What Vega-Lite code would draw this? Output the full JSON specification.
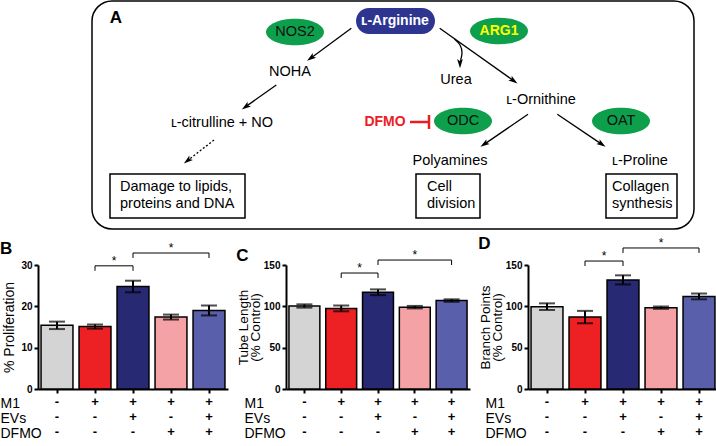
{
  "$schema": "https://vega.github.io/schema/vega-lite/v6.json",
  "padding": 0,
  "background": "white",
  "spacing": 4,
  "config": {
    "view": {"stroke": null},
    "font": "Liberation Sans",
    "text": {"font": "Liberation Sans", "color": "black"},
    "title": {"font": "Liberation Sans"},
    "axis": {"domainColor": "black", "domainWidth": 2, "tickColor": "black", "tickWidth": 2, "labelColor": "black", "titleColor": "black", "grid": false, "labelFont": "Liberation Sans", "titleFont": "Liberation Sans"},
    "axisY": {"labelFontSize": 10, "labelFontWeight": "bold", "tickSize": 4, "labelPadding": 2, "titleFontSize": 14, "titleFontWeight": "normal"}
  },
  "datasets": {
    "frame": [{"x": 54, "x2": 656, "y": 1, "y2": 229}],
    "boxes": [{"x": 72, "x2": 207, "y": 174, "y2": 218}, {"x": 378, "x2": 442, "y": 174, "y2": 218}, {"x": 568, "x2": 639, "y": 174, "y2": 218}],
    "pill": [{"x": 318, "x2": 397, "y": 8, "y2": 34}],
    "enzymes": [{"name": "NOS2", "x": 257, "y": 32}, {"name": "ARG1", "x": 461, "y": 31}, {"name": "ODC", "x": 425, "y": 121}, {"name": "OAT", "x": 583, "y": 121}],
    "arrows": [
      {"x": 313.3, "y": 28.3, "x2": 273.3, "y2": 57.7},
      {"x": 238.3, "y": 85, "x2": 208.1, "y2": 106.4},
      {"x": 401.7, "y": 28.3, "x2": 475.2, "y2": 80.4},
      {"x": 490, "y": 114.3, "x2": 446.8, "y2": 143.9},
      {"x": 519.3, "y": 114.3, "x2": 563.2, "y2": 143.9}
    ],
    "heads": [
      {"x": 273.3, "y": 57.7, "angle": 233.6},
      {"x": 208.1, "y": 106.4, "angle": 234.7},
      {"x": 475.2, "y": 80.4, "angle": 125.3},
      {"x": 446.8, "y": 143.9, "angle": 235.6},
      {"x": 563.2, "y": 143.9, "angle": 124},
      {"x": 150, "y": 160.2, "angle": 232.2},
      {"x": 422, "y": 63, "angle": 180}
    ],
    "dashed": [{"x": 176, "y": 140, "x2": 150, "y2": 160.2}],
    "inhib": [{"x": 372, "y": 122, "x2": 391, "y2": 122}, {"x": 391, "y": 115, "x2": 391, "y2": 129}],
    "curve": [{"i": 1, "x": 416.5, "y": 39}, {"i": 2, "x": 422, "y": 45}, {"i": 3, "x": 424, "y": 53}, {"i": 4, "x": 422.5, "y": 61}],
    "labels": [
      {"t": "NOHA", "x": 252, "y": 72},
      {"t": "ʟ-citrulline + NO", "x": 184, "y": 123},
      {"t": "Urea", "x": 418, "y": 80},
      {"t": "ʟ-Ornithine", "x": 503, "y": 100},
      {"t": "Polyamines", "x": 412, "y": 161},
      {"t": "ʟ-Proline", "x": 602, "y": 161}
    ],
    "boxtext": [
      {"t": "Damage to lipids,", "x": 82, "y": 187},
      {"t": "proteins and DNA", "x": 82, "y": 204},
      {"t": "Cell", "x": 389, "y": 187},
      {"t": "division", "x": 389, "y": 204},
      {"t": "Collagen", "x": 574, "y": 187},
      {"t": "synthesis", "x": 574, "y": 204}
    ],
    "Bbars": [
      {"cond": "- - -", "value": 15.4, "lo": 14.5, "hi": 16.3},
      {"cond": "+ - -", "value": 15.1, "lo": 14.6, "hi": 15.6},
      {"cond": "+ + -", "value": 24.8, "lo": 23.4, "hi": 26.2},
      {"cond": "+ - +", "value": 17.4, "lo": 16.8, "hi": 18.0},
      {"cond": "+ + +", "value": 19.0, "lo": 17.8, "hi": 20.2}
    ],
    "Cbars": [
      {"cond": "- - -", "value": 100.4, "lo": 98.4, "hi": 102.4},
      {"cond": "+ - -", "value": 97.5, "lo": 94, "hi": 101},
      {"cond": "+ + -", "value": 117, "lo": 113.5, "hi": 120.5},
      {"cond": "+ - +", "value": 99, "lo": 97.5, "hi": 100.5},
      {"cond": "+ + +", "value": 107, "lo": 105.5, "hi": 108.5}
    ],
    "Dbars": [
      {"cond": "- - -", "value": 99.6, "lo": 95.6, "hi": 103.6},
      {"cond": "+ - -", "value": 87, "lo": 79.5, "hi": 94.5},
      {"cond": "+ + -", "value": 132, "lo": 126.5, "hi": 137.5},
      {"cond": "+ - +", "value": 98.4, "lo": 97, "hi": 99.8},
      {"cond": "+ + +", "value": 112, "lo": 108.5, "hi": 115.5}
    ],
    "Bbr": [
      {"x": "+ - -", "x2": "+ + -", "y": 29.8, "y2": 29.8},
      {"x": "+ - -", "x2": "+ - -", "y": 29.8, "y2": 28.6},
      {"x": "+ + -", "x2": "+ + -", "y": 29.8, "y2": 28.6},
      {"x": "+ + -", "x2": "+ + +", "y": 32.9, "y2": 32.9},
      {"x": "+ + -", "x2": "+ + -", "y": 32.9, "y2": 31.7},
      {"x": "+ + +", "x2": "+ + +", "y": 32.9, "y2": 31.7}
    ],
    "Cbr": [
      {"x": "+ - -", "x2": "+ + -", "y": 140.3, "y2": 140.3},
      {"x": "+ - -", "x2": "+ - -", "y": 140.3, "y2": 134.3},
      {"x": "+ + -", "x2": "+ + -", "y": 140.3, "y2": 134.3},
      {"x": "+ + -", "x2": "+ + +", "y": 156, "y2": 156},
      {"x": "+ + -", "x2": "+ + -", "y": 156, "y2": 150},
      {"x": "+ + +", "x2": "+ + +", "y": 156, "y2": 150}
    ],
    "Dbr": [
      {"x": "+ - -", "x2": "+ + -", "y": 154.8, "y2": 154.8},
      {"x": "+ - -", "x2": "+ - -", "y": 154.8, "y2": 148.8},
      {"x": "+ + -", "x2": "+ + -", "y": 154.8, "y2": 148.8},
      {"x": "+ + -", "x2": "+ + +", "y": 170.6, "y2": 170.6},
      {"x": "+ + -", "x2": "+ + -", "y": 170.6, "y2": 164.6},
      {"x": "+ + +", "x2": "+ + +", "y": 170.6, "y2": 164.6}
    ]
  },
  "vconcat": [
    {
      "width": 716,
      "height": 230,
      "encoding": {
        "x": {"field": "x", "type": "quantitative", "scale": {"domain": [0, 716], "nice": false, "zero": false}, "axis": null},
        "y": {"field": "y", "type": "quantitative", "scale": {"domain": [0, 230], "nice": false, "zero": false, "reverse": true}, "axis": null}
      },
      "layer": [
        {"data": {"name": "frame"}, "mark": {"type": "rect", "fill": "white", "fillOpacity": 0, "stroke": "black", "strokeWidth": 1.5, "cornerRadius": 20},
         "encoding": {"x2": {"field": "x2"}, "y2": {"field": "y2"}}},
        {"data": {"name": "boxes"}, "mark": {"type": "rect", "fill": "white", "fillOpacity": 0, "stroke": "black", "strokeWidth": 1.5},
         "encoding": {"x2": {"field": "x2"}, "y2": {"field": "y2"}}},
        {"data": {"name": "pill"}, "mark": {"type": "rect", "fill": "#2d3591", "cornerRadius": 13},
         "encoding": {"x2": {"field": "x2"}, "y2": {"field": "y2"}}},
        {"data": {"name": "enzymes"}, "mark": {"type": "point", "shape": "M-1,0A1,0.46,0,1,1,1,0A1,0.46,0,1,1,-1,0Z", "filled": true, "fill": "#0e9f4c", "opacity": 1, "strokeWidth": 0, "size": 3364},
         "encoding": {}},
        {"data": {"name": "enzymes"}, "transform": [{"filter": "datum.name != 'ARG1'"}], "mark": {"type": "text", "fontSize": 14.5, "color": "#111111"},
         "encoding": {"text": {"field": "name"}}},
        {"data": {"name": "enzymes"}, "transform": [{"filter": "datum.name == 'ARG1'"}], "mark": {"type": "text", "fontSize": 14, "fontWeight": "bold", "color": "#ffff00"},
         "encoding": {"text": {"field": "name"}}},
        {"data": {"values": [{"t": "ʟ-Arginine", "x": 357, "y": 21}]}, "mark": {"type": "text", "fontSize": 14, "fontWeight": "bold", "color": "white"},
         "encoding": {"text": {"field": "t"}}},
        {"data": {"values": [{"t": "A", "x": 78, "y": 18}]}, "mark": {"type": "text", "fontSize": 17, "fontWeight": "bold", "color": "black"},
         "encoding": {"text": {"field": "t"}}},
        {"data": {"values": [{"t": "DFMO", "x": 347, "y": 122}]}, "mark": {"type": "text", "fontSize": 14, "fontWeight": "bold", "color": "#ec1c24"},
         "encoding": {"text": {"field": "t"}}},
        {"data": {"name": "labels"}, "mark": {"type": "text", "fontSize": 14.5, "color": "black"},
         "encoding": {"text": {"field": "t"}}},
        {"data": {"name": "boxtext"}, "mark": {"type": "text", "fontSize": 14.5, "align": "left", "color": "black"},
         "encoding": {"text": {"field": "t"}}},
        {"data": {"name": "arrows"}, "mark": {"type": "rule", "color": "black", "strokeWidth": 1.3},
         "encoding": {"x2": {"field": "x2"}, "y2": {"field": "y2"}}},
        {"data": {"name": "dashed"}, "mark": {"type": "rule", "color": "black", "strokeWidth": 1.3, "strokeDash": [2, 2]},
         "encoding": {"x2": {"field": "x2"}, "y2": {"field": "y2"}}},
        {"data": {"name": "inhib"}, "mark": {"type": "rule", "color": "#ec1c24", "strokeWidth": 2.5},
         "encoding": {"x2": {"field": "x2"}, "y2": {"field": "y2"}}},
        {"data": {"name": "curve"}, "mark": {"type": "line", "color": "black", "strokeWidth": 1.3, "interpolate": "natural"},
         "encoding": {"order": {"field": "i", "type": "quantitative"}}},
        {"data": {"name": "heads"}, "mark": {"type": "point", "shape": "M0,-1L0.55,0.75L0,0.35L-0.55,0.75Z", "filled": true, "fill": "black", "opacity": 1, "strokeWidth": 0, "size": 110},
         "encoding": {"angle": {"field": "angle", "type": "quantitative", "scale": null}}}
      ]
    },
    {
      "hconcat": [
        {
          "width": 190, "height": 124,
          "title": {"text": "B", "anchor": "start", "frame": "bounds", "fontSize": 17, "fontWeight": "bold", "color": "black", "offset": -16},
          "layer": [
            {"data": {"name": "Bbars"}, "mark": {"type": "bar", "stroke": "black", "strokeWidth": 1.5},
             "encoding": {
               "x": {"field": "cond", "type": "nominal", "sort": null,
                     "scale": {"domain": ["- - -", "+ - -", "+ + -", "+ - +", "+ + +"], "paddingInner": 0.16, "paddingOuter": 0.08},
                     "axis": {"labelExpr": "split(datum.label, ' ')", "labelAngle": 0, "labelFontSize": 13, "labelFontWeight": "bold", "labelLineHeight": 15, "labelPadding": 2, "tickSize": 4,
                              "title": ["M1", "EVs", "DFMO"], "titleAlign": "left", "titleAnchor": "start", "titleX": -38, "titleY": 7, "titleBaseline": "top", "titleLineHeight": 15, "titleFontSize": 14, "titleFontWeight": "normal"}},
               "y": {"field": "value", "type": "quantitative", "scale": {"domain": [0, 30], "nice": false}, "axis": {"values": [0, 10, 20, 30], "title": "% Proliferation", "titlePadding": 4}},
               "color": {"field": "cond", "type": "nominal", "scale": {"domain": ["- - -", "+ - -", "+ + -", "+ - +", "+ + +"], "range": ["#d4d4d4", "#ed2024", "#272a73", "#f4a2a5", "#5a5fab"]}, "legend": null}
             }},
            {"data": {"name": "Bbars"}, "mark": {"type": "errorbar", "ticks": {"size": 16}, "thickness": 2, "color": "black"},
             "encoding": {"x": {"field": "cond", "type": "nominal", "sort": null}, "y": {"field": "lo", "type": "quantitative", "title": "% Proliferation"}, "y2": {"field": "hi"}}},
            {"data": {"name": "Bbr"}, "mark": {"type": "rule", "color": "black", "strokeWidth": 1},
             "encoding": {"x": {"field": "x", "type": "nominal", "bandPosition": 0.5}, "x2": {"field": "x2", "bandPosition": 0.5}, "y": {"field": "y", "type": "quantitative"}, "y2": {"field": "y2"}}},
            {"data": {"values": [{"x": "+ - -", "y": 29.8, "s": "*"}]}, "mark": {"type": "text", "fontSize": 12, "baseline": "alphabetic", "dy": -1, "fill": "black", "color": "black"},
             "encoding": {"text": {"field": "s"}, "x": {"field": "x", "type": "nominal", "bandPosition": 1.095}, "y": {"field": "y", "type": "quantitative"}}},
            {"data": {"values": [{"x": "+ - +", "y": 32.9, "s": "*"}]}, "mark": {"type": "text", "fontSize": 12, "baseline": "alphabetic", "dy": -1, "fill": "black", "color": "black"},
             "encoding": {"text": {"field": "s"}, "x": {"field": "x", "type": "nominal", "bandPosition": 0.5}, "y": {"field": "y", "type": "quantitative"}}}
          ]
        },
        {
          "width": 184, "height": 124,
          "title": {"text": "C", "anchor": "start", "frame": "bounds", "fontSize": 17, "fontWeight": "bold", "color": "black", "offset": -16},
          "layer": [
            {"data": {"name": "Cbars"}, "mark": {"type": "bar", "stroke": "black", "strokeWidth": 1.5},
             "encoding": {
               "x": {"field": "cond", "type": "nominal", "sort": null,
                     "scale": {"domain": ["- - -", "+ - -", "+ + -", "+ - +", "+ + +"], "paddingInner": 0.16, "paddingOuter": 0.08},
                     "axis": {"labelExpr": "split(datum.label, ' ')", "labelAngle": 0, "labelFontSize": 13, "labelFontWeight": "bold", "labelLineHeight": 15, "labelPadding": 2, "tickSize": 4,
                              "title": ["M1", "EVs", "DFMO"], "titleAlign": "left", "titleAnchor": "start", "titleX": -42, "titleY": 7, "titleBaseline": "top", "titleLineHeight": 15, "titleFontSize": 14, "titleFontWeight": "normal"}},
               "y": {"field": "value", "type": "quantitative", "scale": {"domain": [0, 150], "nice": false}, "axis": {"values": [0, 50, 100, 150], "title": ["Tube Length", "(% Control)"], "titlePadding": 1, "titleLineHeight": 12, "titleFontSize": 13.5}},
               "color": {"field": "cond", "type": "nominal", "scale": {"domain": ["- - -", "+ - -", "+ + -", "+ - +", "+ + +"], "range": ["#d4d4d4", "#ed2024", "#272a73", "#f4a2a5", "#5a5fab"]}, "legend": null}
             }},
            {"data": {"name": "Cbars"}, "mark": {"type": "errorbar", "ticks": {"size": 16}, "thickness": 2, "color": "black"},
             "encoding": {"x": {"field": "cond", "type": "nominal", "sort": null}, "y": {"field": "lo", "type": "quantitative", "title": ["Tube Length", "(% Control)"]}, "y2": {"field": "hi"}}},
            {"data": {"name": "Cbr"}, "mark": {"type": "rule", "color": "black", "strokeWidth": 1},
             "encoding": {"x": {"field": "x", "type": "nominal", "bandPosition": 0.5}, "x2": {"field": "x2", "bandPosition": 0.5}, "y": {"field": "y", "type": "quantitative"}, "y2": {"field": "y2"}}},
            {"data": {"values": [{"x": "+ - -", "y": 140.3, "s": "*"}]}, "mark": {"type": "text", "fontSize": 12, "baseline": "alphabetic", "dy": -1, "fill": "black", "color": "black"},
             "encoding": {"text": {"field": "s"}, "x": {"field": "x", "type": "nominal", "bandPosition": 1.095}, "y": {"field": "y", "type": "quantitative"}}},
            {"data": {"values": [{"x": "+ - +", "y": 156, "s": "*"}]}, "mark": {"type": "text", "fontSize": 12, "baseline": "alphabetic", "dy": -1, "fill": "black", "color": "black"},
             "encoding": {"text": {"field": "s"}, "x": {"field": "x", "type": "nominal", "bandPosition": 0.5}, "y": {"field": "y", "type": "quantitative"}}}
          ]
        },
        {
          "width": 190, "height": 124,
          "title": {"text": "D", "anchor": "start", "frame": "bounds", "fontSize": 17, "fontWeight": "bold", "color": "black", "offset": -16},
          "layer": [
            {"data": {"name": "Dbars"}, "mark": {"type": "bar", "stroke": "black", "strokeWidth": 1.5},
             "encoding": {
               "x": {"field": "cond", "type": "nominal", "sort": null,
                     "scale": {"domain": ["- - -", "+ - -", "+ + -", "+ - +", "+ + +"], "paddingInner": 0.16, "paddingOuter": 0.08},
                     "axis": {"labelExpr": "split(datum.label, ' ')", "labelAngle": 0, "labelFontSize": 13, "labelFontWeight": "bold", "labelLineHeight": 15, "labelPadding": 2, "tickSize": 4,
                              "title": ["M1", "EVs", "DFMO"], "titleAlign": "left", "titleAnchor": "start", "titleX": -43, "titleY": 7, "titleBaseline": "top", "titleLineHeight": 15, "titleFontSize": 14, "titleFontWeight": "normal"}},
               "y": {"field": "value", "type": "quantitative", "scale": {"domain": [0, 150], "nice": false}, "axis": {"values": [0, 50, 100, 150], "title": ["Branch Points", "(% Control)"], "titlePadding": 1, "titleLineHeight": 12, "titleFontSize": 13.5}},
               "color": {"field": "cond", "type": "nominal", "scale": {"domain": ["- - -", "+ - -", "+ + -", "+ - +", "+ + +"], "range": ["#d4d4d4", "#ed2024", "#272a73", "#f4a2a5", "#5a5fab"]}, "legend": null}
             }},
            {"data": {"name": "Dbars"}, "mark": {"type": "errorbar", "ticks": {"size": 16}, "thickness": 2, "color": "black"},
             "encoding": {"x": {"field": "cond", "type": "nominal", "sort": null}, "y": {"field": "lo", "type": "quantitative", "title": ["Branch Points", "(% Control)"]}, "y2": {"field": "hi"}}},
            {"data": {"name": "Dbr"}, "mark": {"type": "rule", "color": "black", "strokeWidth": 1},
             "encoding": {"x": {"field": "x", "type": "nominal", "bandPosition": 0.5}, "x2": {"field": "x2", "bandPosition": 0.5}, "y": {"field": "y", "type": "quantitative"}, "y2": {"field": "y2"}}},
            {"data": {"values": [{"x": "+ - -", "y": 154.8, "s": "*"}]}, "mark": {"type": "text", "fontSize": 12, "baseline": "alphabetic", "dy": -1, "fill": "black", "color": "black"},
             "encoding": {"text": {"field": "s"}, "x": {"field": "x", "type": "nominal", "bandPosition": 1.095}, "y": {"field": "y", "type": "quantitative"}}},
            {"data": {"values": [{"x": "+ - +", "y": 170.6, "s": "*"}]}, "mark": {"type": "text", "fontSize": 12, "baseline": "alphabetic", "dy": -1, "fill": "black", "color": "black"},
             "encoding": {"text": {"field": "s"}, "x": {"field": "x", "type": "nominal", "bandPosition": 0.5}, "y": {"field": "y", "type": "quantitative"}}}
          ]
        }
      ],
      "spacing": 8
    }
  ]
}
